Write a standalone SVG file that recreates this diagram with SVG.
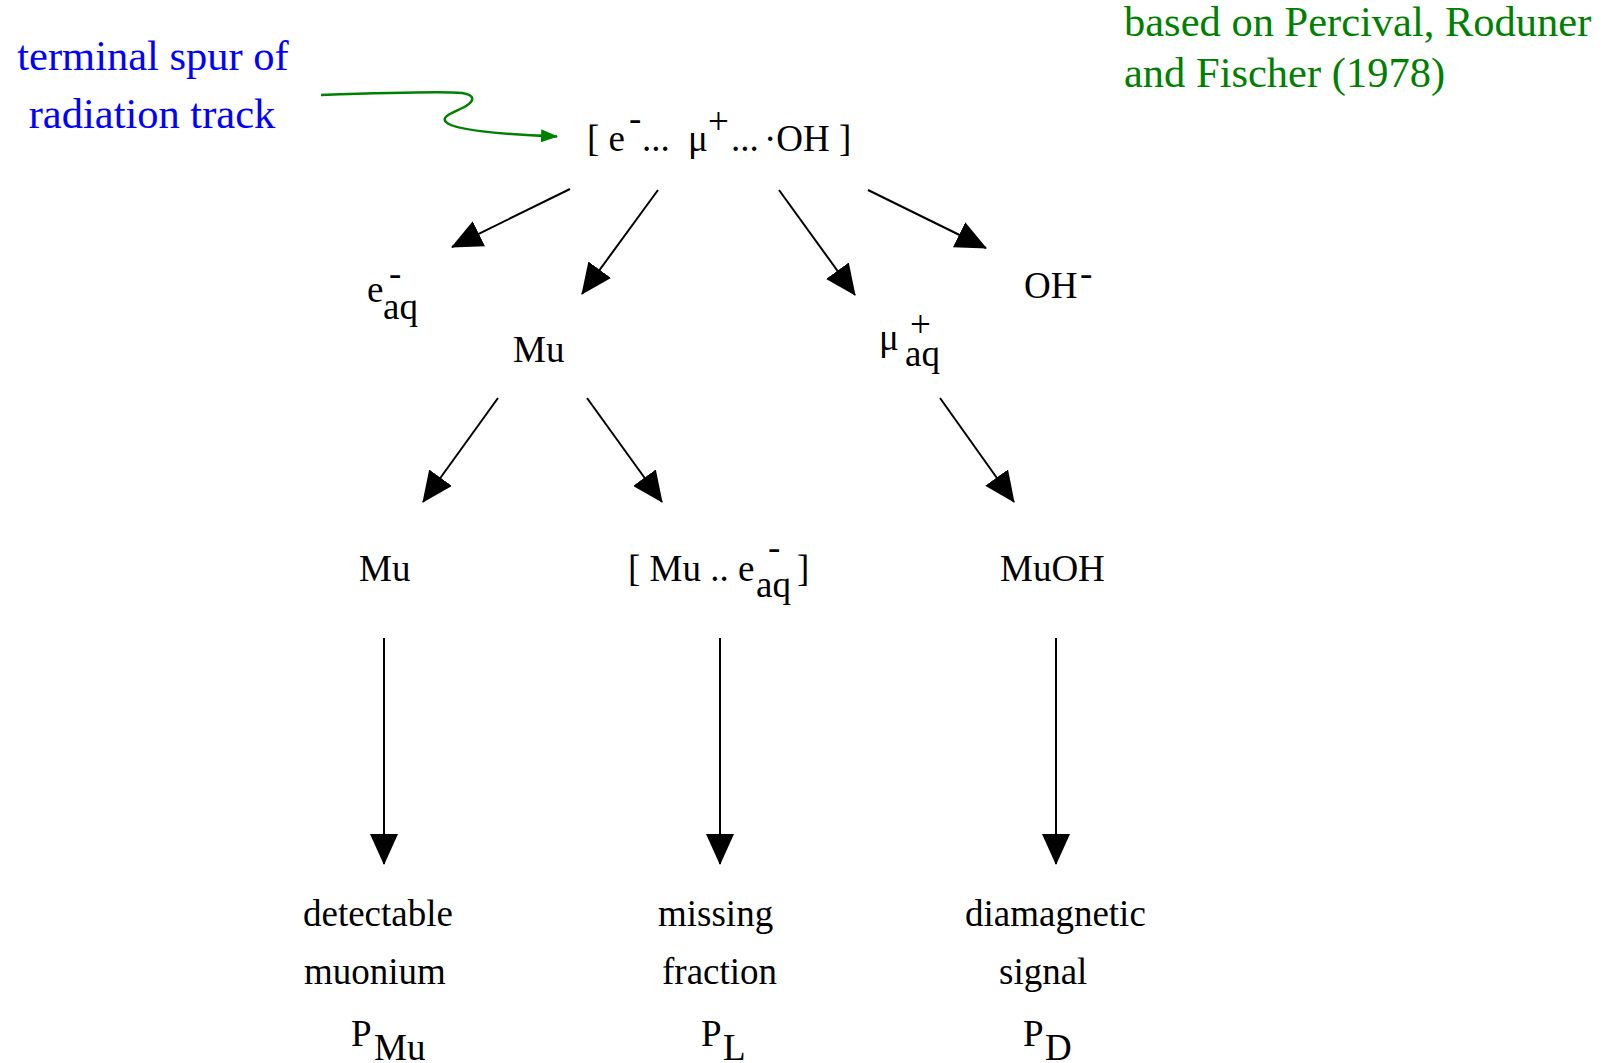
<svg xmlns="http://www.w3.org/2000/svg" width="1610" height="1063" viewBox="0 0 1610 1063">
<style>
text{font-family:"Liberation Serif","Times New Roman",serif;}
.t{font-size:37px;fill:#000;}
.note{font-size:42.5px;}
.blue{fill:#0000ff;}
.green{fill:#008000;}
.edge{stroke:#000;stroke-width:2;fill:none;marker-end:url(#ah);}
.gedge{stroke:#008000;stroke-width:2.5;fill:none;marker-end:url(#gah);}
</style>
<defs>
<marker id="ah" markerUnits="userSpaceOnUse" markerWidth="31" markerHeight="28" viewBox="0 0 31 28" refX="30" refY="14" orient="auto">
<path d="M0,0 L31,14 L0,28 z" fill="#000"/>
</marker>
<marker id="gah" markerUnits="userSpaceOnUse" markerWidth="17" markerHeight="13" viewBox="0 0 17 13" refX="16" refY="6.5" orient="auto">
<path d="M0,0 L17,6.5 L0,13 z" fill="#008000"/>
</marker>
</defs>

<g id="note-source">
<text class="note green" x="1124" y="36">based on Percival, Roduner</text>
<text class="note green" x="1124" y="87">and Fischer (1978)</text>
</g>

<g id="note-spur">
<text class="note blue" x="153" y="70" text-anchor="middle">terminal spur of</text>
<text class="note blue" x="152" y="128" text-anchor="middle">radiation track</text>
</g>

<g id="spur">
<text class="t"><tspan x="587" y="151">[ e</tspan><tspan x="629" y="131">-</tspan><tspan x="642" y="151">...</tspan><tspan x="688" y="151">μ</tspan><tspan x="708" y="134">+</tspan><tspan x="731" y="151">...</tspan><tspan x="764" y="151">·OH ]</tspan></text>
</g>

<g id="e-aq">
<text class="t"><tspan x="367" y="302">e</tspan><tspan x="389" y="286">-</tspan><tspan x="383" y="319">aq</tspan></text>
</g>

<g id="mu-1">
<text class="t" x="513" y="362">Mu</text>
</g>

<g id="mu-aq">
<text class="t"><tspan x="879" y="350">μ</tspan><tspan x="910" y="337">+</tspan><tspan x="905" y="366">aq</tspan></text>
</g>

<g id="oh-minus">
<text class="t"><tspan x="1024" y="298">OH</tspan><tspan x="1080" y="286">-</tspan></text>
</g>

<g id="mu-2">
<text class="t" x="359" y="581">Mu</text>
</g>

<g id="mu-e-aq">
<text class="t"><tspan x="628" y="581">[ Mu .. e</tspan><tspan x="768" y="560">-</tspan><tspan x="756" y="597">aq</tspan><tspan x="797" y="581">]</tspan></text>
</g>

<g id="muoh">
<text class="t" x="1000" y="581">MuOH</text>
</g>

<g id="p-mu">
<text class="t" x="303" y="926">detectable</text>
<text class="t" x="304" y="984">muonium</text>
<text class="t"><tspan x="351" y="1046">P</tspan><tspan x="374" y="1060">Mu</tspan></text>
</g>

<g id="p-l">
<text class="t" x="658" y="926">missing</text>
<text class="t" x="662" y="984">fraction</text>
<text class="t"><tspan x="701" y="1046">P</tspan><tspan x="723" y="1060">L</tspan></text>
</g>

<g id="p-d">
<text class="t" x="965" y="926">diamagnetic</text>
<text class="t" x="999" y="984">signal</text>
<text class="t"><tspan x="1023" y="1046">P</tspan><tspan x="1045" y="1060">D</tspan></text>
</g>

<g id="connectors">
<path class="gedge" d="M321,95 C380,93 440,91 462,93 C476,95 474,101 466,106 C456,112 440,116 446,122 C452,129 495,134 557,136.5"/>
<line class="edge" x1="570" y1="189" x2="452" y2="247"/>
<line class="edge" x1="658" y1="190" x2="582" y2="294"/>
<line class="edge" x1="779" y1="190" x2="855" y2="295"/>
<line class="edge" x1="868" y1="190" x2="986" y2="248"/>
<line class="edge" x1="498" y1="398" x2="423" y2="502"/>
<line class="edge" x1="587" y1="398" x2="662" y2="502"/>
<line class="edge" x1="940" y1="398" x2="1014" y2="502"/>
<line class="edge" x1="384" y1="638" x2="384" y2="864"/>
<line class="edge" x1="720" y1="638" x2="720" y2="864"/>
<line class="edge" x1="1056" y1="638" x2="1056" y2="864"/>
</g>
</svg>
